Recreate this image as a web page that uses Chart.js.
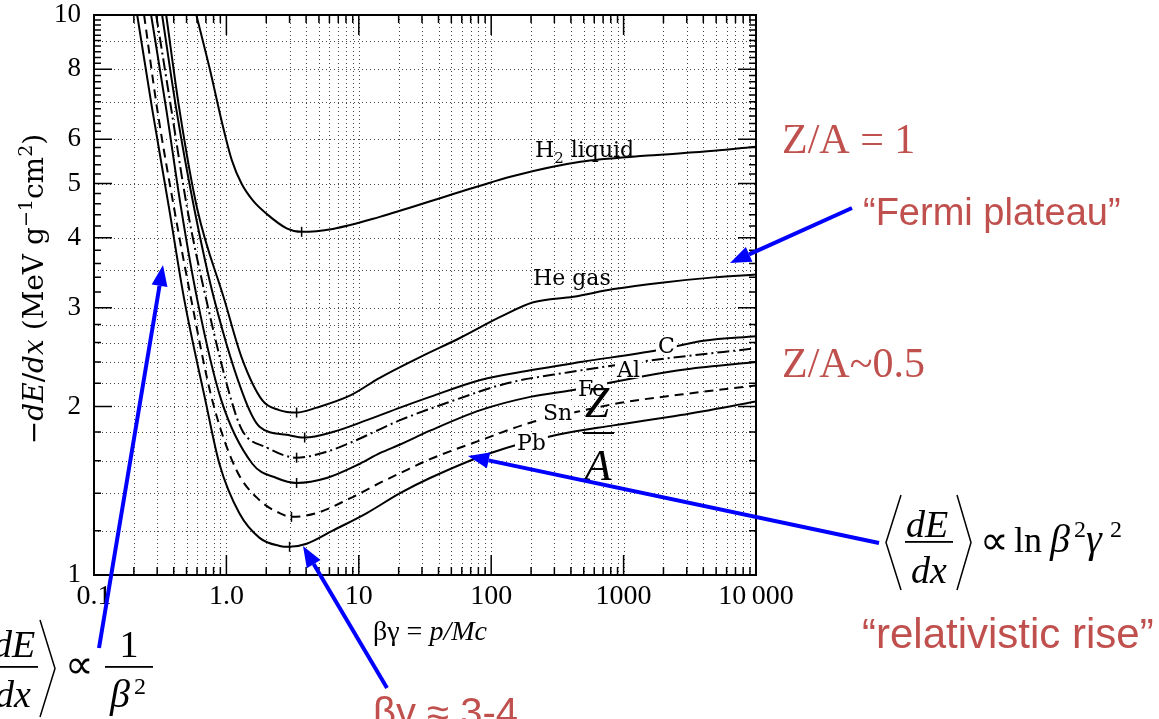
<!DOCTYPE html>
<html>
<head>
<meta charset="utf-8">
<script src="https://cdn.jsdelivr.net/npm/chart.js@4.4.1/dist/chart.umd.min.js"></script>
<style>
  html, body { margin: 0; padding: 0; background: #fff; }
  canvas { display: block; }
</style>
</head>
<body>
<canvas id="chart" width="1159" height="719"></canvas>
<script>
// readings: beta*gamma (x) and -dE/dx in MeV g^-1 cm^2 (y)
const h2X = [0.593, 0.75, 0.93, 1.1, 1.3, 1.6, 2.0, 2.85, 3.7, 6.35, 14.4, 46.4, 147, 472, 1520, 4810, 10000];
const h2Y = [10, 8.0, 6.4, 5.5, 5.0, 4.65, 4.42, 4.16, 4.10, 4.15, 4.36, 4.75, 5.16, 5.47, 5.61, 5.72, 5.82];

const heX = [0.351, 0.441, 0.603, 0.966, 1.3, 1.87, 2.5, 3.39, 4.81, 8.55, 14.4, 29, 58, 117, 208, 418, 840, 2010, 4810, 10000];
const heY = [10, 6.8, 4.5, 3.10, 2.45, 2.05, 1.97, 1.95, 1.99, 2.09, 2.25, 2.45, 2.65, 2.89, 3.07, 3.14, 3.24, 3.33, 3.40, 3.44];

const cX = [0.327, 0.418, 0.573, 0.811, 1.39, 1.78, 2.85, 3.9, 6.35, 11.5, 20.5, 34.5, 83, 197, 472, 1800, 4000, 10000];
const cY = [10, 6.8, 4.5, 3.10, 2.05, 1.84, 1.78, 1.76, 1.80, 1.89, 1.99, 2.08, 2.23, 2.32, 2.40, 2.52, 2.62, 2.67];

const alX = [0.295, 0.383, 0.507, 0.705, 1.09, 1.32, 2.01, 3.39, 5.72, 9.0, 14.4, 20.5, 46.4, 132, 377, 1690, 10000];
const alY = [10, 6.8, 4.5, 3.10, 2.05, 1.81, 1.69, 1.62, 1.66, 1.73, 1.82, 1.89, 2.03, 2.20, 2.30, 2.42, 2.54];

const feX = [0.270, 0.351, 0.456, 0.603, 0.916, 1.57, 2.39, 3.39, 5.72, 10.2, 14.4, 20.5, 34.5, 83, 197, 418, 1345, 3000, 10000];
const feY = [10, 6.8, 4.5, 3.10, 2.05, 1.58, 1.49, 1.46, 1.49, 1.58, 1.65, 1.71, 1.81, 1.97, 2.08, 2.14, 2.26, 2.33, 2.40];

const snX = [0.239, 0.300, 0.404, 0.543, 0.783, 1.19, 1.78, 2.52, 3.10, 4.81, 8.55, 14.4, 20.5, 34.5, 83, 197, 418, 950, 2700, 10000];
const snY = [10, 6.8, 4.5, 3.10, 2.05, 1.54, 1.36, 1.29, 1.27, 1.29, 1.37, 1.46, 1.52, 1.61, 1.74, 1.87, 1.95, 2.03, 2.10, 2.18];

const pbX = [0.212, 0.275, 0.370, 0.481, 0.694, 0.885, 1.25, 1.78, 2.52, 3.0, 4.04, 6.35, 11.5, 20.5, 34.5, 98, 316, 840, 2700, 10000];
const pbY = [10, 6.8, 4.5, 3.10, 2.05, 1.58, 1.29, 1.165, 1.127, 1.123, 1.137, 1.20, 1.29, 1.40, 1.49, 1.65, 1.78, 1.85, 1.93, 2.04];

// small marks at the minimum of each curve
const minX = [3.7, 3.39, 3.9, 3.39, 3.39, 3.10, 3.0];
const minY = [4.10, 1.95, 1.76, 1.62, 1.46, 1.27, 1.123];

const xTickValues = [0.1, 1, 10, 100, 1000, 10000];
const xTickLabels = ["0.1", "1.0", "10", "100", "1000", "10\u2009000"];
const yTickValues = [1, 2, 3, 4, 5, 6, 8, 10];
const yTickLabels = ["1", "2", "3", "4", "5", "6", "8", "10"];
const yGridValues = [1.2, 1.4, 1.6, 1.8, 2, 2.2, 2.4, 2.6, 2.8, 3, 3.5, 4, 5, 6, 7, 8, 9];

const RED = "#c0504d";
const BLUE = "#0000ff";

function pts(xs, ys) {
  return xs.map((x, i) => ({ x: x, y: ys[i] }));
}

const curves = [
  { label: "H2 liquid", xs: h2X, ys: h2Y, dash: [] },
  { label: "He gas", xs: heX, ys: heY, dash: [] },
  { label: "C", xs: cX, ys: cY, dash: [] },
  { label: "Al", xs: alX, ys: alY, dash: [12, 4, 2, 4] },
  { label: "Fe", xs: feX, ys: feY, dash: [] },
  { label: "Sn", xs: snX, ys: snY, dash: [9, 6] },
  { label: "Pb", xs: pbX, ys: pbY, dash: [] },
];

const datasets = curves.map((c) => ({
  label: c.label,
  data: pts(c.xs, c.ys),
  showLine: true,
  borderColor: "#000",
  borderWidth: 2,
  borderDash: c.dash,
  pointRadius: 0,
  cubicInterpolationMode: "monotone",
}));

datasets.push({
  label: "minima",
  data: pts(minX, minY),
  showLine: false,
  pointStyle: "line",
  rotation: 90,
  pointRadius: 5,
  borderColor: "#000",
  borderWidth: 1.5,
});

function arrow(ctx, x0, y0, x1, y1) {
  const ang = Math.atan2(y1 - y0, x1 - x0);
  const L = 21, W = 8;
  const bx = x1 - L * Math.cos(ang), by = y1 - L * Math.sin(ang);
  ctx.save();
  ctx.strokeStyle = BLUE;
  ctx.fillStyle = BLUE;
  ctx.lineWidth = 4;
  ctx.beginPath();
  ctx.moveTo(x0, y0);
  ctx.lineTo(bx, by);
  ctx.stroke();
  ctx.beginPath();
  ctx.moveTo(x1, y1);
  ctx.lineTo(bx + W * Math.sin(ang), by - W * Math.cos(ang));
  ctx.lineTo(bx - W * Math.sin(ang), by + W * Math.cos(ang));
  ctx.closePath();
  ctx.fill();
  ctx.restore();
}

// label sitting on a curve: clear a gap in the line, then write
function boxLabel(ctx, text, x, base) {
  const m = ctx.measureText(text);
  ctx.fillStyle = "#fff";
  ctx.fillRect(x - 2, base - m.actualBoundingBoxAscent - 1, m.width + 4, m.actualBoundingBoxAscent + m.actualBoundingBoxDescent + 2);
  ctx.fillStyle = "#000";
  ctx.fillText(text, x, base);
}

function bracket(ctx, x0, xm, top, bot) {
  ctx.beginPath();
  ctx.moveTo(x0, top);
  ctx.lineTo(xm, (top + bot) / 2);
  ctx.lineTo(x0, bot);
  ctx.stroke();
}

function runs(ctx, parts, x, y) {
  parts.forEach((p) => {
    ctx.font = p.f;
    ctx.fillText(p.t, x, y + (p.dy || 0));
    x += ctx.measureText(p.t).width;
  });
  return x;
}

const paper = {
  id: "paper",
  beforeDraw(chart) {
    const ctx = chart.ctx;
    ctx.save();
    ctx.fillStyle = "#fff";
    ctx.fillRect(0, 0, chart.width, chart.height);
    ctx.restore();
  },
  beforeDatasetsDraw(chart) {
    const { ctx, chartArea: a } = chart;
    const x = chart.scales.x, y = chart.scales.y;
    ctx.save();
    ctx.strokeStyle = "#444";
    ctx.lineWidth = 1;
    ctx.setLineDash([1, 3]);
    ctx.beginPath();
    for (let k = -1; k <= 3; k++) {
      for (let m = 1; m <= 9; m++) {
        const px = Math.round(x.getPixelForValue(m * Math.pow(10, k))) + 0.5;
        ctx.moveTo(px, a.top);
        ctx.lineTo(px, a.bottom);
      }
    }
    yGridValues.forEach((v) => {
      const py = Math.round(y.getPixelForValue(v)) + 0.5;
      ctx.moveTo(a.left, py);
      ctx.lineTo(a.right, py);
    });
    ctx.stroke();
    ctx.restore();
  },
  afterDatasetsDraw(chart) {
    const { ctx, chartArea: a } = chart;
    const x = chart.scales.x, y = chart.scales.y;
    ctx.save();
    ctx.strokeStyle = "#000";
    ctx.lineWidth = 1.5;
    ctx.beginPath();
    for (let k = -1; k <= 3; k++) {
      for (let m = 1; m <= 9; m++) {
        const px = x.getPixelForValue(m * Math.pow(10, k));
        const len = m === 1 ? 20 : 8;
        ctx.moveTo(px, a.bottom);
        ctx.lineTo(px, a.bottom - len);
        ctx.moveTo(px, a.top);
        ctx.lineTo(px, a.top + len);
      }
    }
    for (let i = 5; i < 50; i++) {
      const v = i / 5;
      const py = y.getPixelForValue(v);
      const len = yTickValues.includes(v) ? 18 : 7;
      ctx.moveTo(a.left, py);
      ctx.lineTo(a.left + len, py);
      ctx.moveTo(a.right, py);
      ctx.lineTo(a.right - len, py);
    }
    ctx.stroke();
    ctx.lineWidth = 2;
    ctx.strokeRect(a.left, a.top, a.right - a.left, a.bottom - a.top);

    // curve names
    ctx.fillStyle = "#000";
    ctx.textBaseline = "alphabetic";
    const lf = '22px "DejaVu Serif"';
    runs(ctx, [{ t: "H", f: lf }, { t: "2", f: '15px "DejaVu Serif"', dy: 6 }, { t: " liquid", f: lf }], 535, 157);
    ctx.font = lf;
    ctx.fillText("He gas", 533, 285);
    boxLabel(ctx, "C", 658, 353);
    boxLabel(ctx, "Al", 617, 377);
    boxLabel(ctx, "Fe", 578, 396);
    boxLabel(ctx, "Sn", 543, 420);
    boxLabel(ctx, "Pb", 517, 450);

    // Z/A over the curves
    ctx.font = 'italic 44px "Liberation Serif"';
    ctx.textAlign = "center";
    ctx.fillText("Z", 597, 417);
    ctx.fillText("A", 598, 480);
    ctx.fillRect(583, 432, 31, 2);
    ctx.textAlign = "left";
    ctx.restore();
  },
  afterDraw(chart) {
    const ctx = chart.ctx;
    ctx.save();
    ctx.fillStyle = "#000";
    ctx.strokeStyle = "#000";
    ctx.textBaseline = "alphabetic";

    // y axis title
    ctx.save();
    ctx.translate(43, 289);
    ctx.rotate(-Math.PI / 2);
    const n = '28px "DejaVu Serif"', it = 'italic 28px "DejaVu Serif"', sup = '19px "DejaVu Serif"';
    const yParts = [
      { t: "\u2212", f: n }, { t: "dE", f: it }, { t: "/", f: n }, { t: "dx", f: it },
      { t: " (MeV g", f: n }, { t: "\u22121", f: sup, dy: -11 }, { t: "cm", f: n },
      { t: "2", f: sup, dy: -11 }, { t: ")", f: n },
    ];
    let tw = 0;
    yParts.forEach((p) => { ctx.font = p.f; tw += ctx.measureText(p.t).width; });
    runs(ctx, yParts, -tw / 2, 0);
    ctx.restore();

    // x axis title
    runs(ctx, [{ t: "\u03b2\u03b3 = ", f: '28px "Liberation Serif"' }, { t: "p/Mc", f: 'italic 28px "Liberation Serif"' }], 373, 640);

    // formula bottom left
    ctx.lineWidth = 1.5;
    ctx.textAlign = "center";
    ctx.font = 'italic 38px "Liberation Serif"';
    ctx.fillText("dE", 14, 657);
    ctx.fillText("dx", 13, 707);
    ctx.fillRect(-10, 666, 48, 1.8);
    bracket(ctx, 40, 55, 620, 717);
    ctx.font = '40px "Liberation Serif"';
    ctx.fillText("\u221d", 79, 678);
    ctx.font = '38px "Liberation Serif"';
    ctx.fillText("1", 129, 657);
    ctx.fillRect(105, 666, 48, 1.8);
    ctx.textAlign = "left";
    ctx.font = 'italic 40px "Liberation Serif"';
    ctx.fillText("\u03b2", 110, 707);
    ctx.font = '24px "Liberation Serif"';
    ctx.fillText("2", 134, 694);

    // formula right
    ctx.textAlign = "center";
    ctx.font = 'italic 38px "Liberation Serif"';
    ctx.fillText("dE", 927, 537);
    ctx.fillText("dx", 929, 583);
    ctx.fillRect(905, 541, 48, 1.8);
    bracket(ctx, 901, 886, 495, 590);
    bracket(ctx, 957, 971, 495, 590);
    ctx.textAlign = "left";
    ctx.font = '40px "Liberation Serif"';
    ctx.fillText("\u221d", 980, 554);
    ctx.font = '36px "Liberation Serif"';
    ctx.fillText("ln", 1014, 552);
    ctx.font = 'italic 40px "Liberation Serif"';
    ctx.fillText("\u03b2", 1050, 552);
    ctx.fillText("\u03b3", 1086, 552);
    ctx.font = '24px "Liberation Serif"';
    ctx.fillText("2", 1074, 537);
    ctx.fillText("2", 1110, 537);

    // red notes
    ctx.fillStyle = RED;
    ctx.font = '42px "Liberation Serif"';
    ctx.fillText("Z/A = 1", 782, 153);
    ctx.fillText("Z/A~0.5", 782, 377);
    ctx.font = '38px "Liberation Sans"';
    ctx.fillText("\u201cFermi plateau\u201d", 863, 225);
    ctx.font = '42px "Liberation Sans"';
    ctx.fillText("\u201crelativistic rise\u201d", 862, 648);
    ctx.font = '40px "Liberation Sans"';
    ctx.fillText("\u03b2\u03b3 \u2248 3-4", 373, 726);

    // blue arrows
    arrow(ctx, 99, 648, 163, 265);
    arrow(ctx, 387, 688, 303, 546);
    arrow(ctx, 879, 543, 468, 456);
    arrow(ctx, 852, 208, 730, 263);
    ctx.restore();
  },
};

new Chart(document.getElementById("chart"), {
  type: "scatter",
  data: { datasets: datasets },
  options: {
    responsive: false,
    animation: false,
    devicePixelRatio: 1,
    layout: { padding: { left: 34, top: 15, right: 403, bottom: 104 } },
    plugins: { legend: { display: false }, tooltip: { enabled: false } },
    scales: {
      x: {
        type: "logarithmic",
        min: 0.1,
        max: 10000,
        grid: { display: false, drawTicks: false },
        border: { display: false },
        afterBuildTicks: (s) => { s.ticks = xTickValues.map((v) => ({ value: v })); },
        afterFit: (s) => { s.height = 40; s.paddingLeft = 0; s.paddingRight = 0; },
        ticks: {
          autoSkip: false,
          maxRotation: 0,
          padding: 8,
          color: "#000",
          font: { family: "Liberation Serif", size: 28, lineHeight: 1 },
          callback: (v, i) => xTickLabels[i],
        },
      },
      y: {
        type: "logarithmic",
        min: 1,
        max: 10,
        grid: { display: false, drawTicks: false },
        border: { display: false },
        afterBuildTicks: (s) => { s.ticks = yTickValues.map((v) => ({ value: v })); },
        afterFit: (s) => { s.width = 60; s.paddingTop = 0; s.paddingBottom = 0; },
        ticks: {
          autoSkip: false,
          padding: 13,
          color: "#000",
          font: { family: "Liberation Serif", size: 27, lineHeight: 1 },
          callback: (v, i) => yTickLabels[i],
        },
      },
    },
  },
  plugins: [paper],
});
</script>
</body>
</html>
